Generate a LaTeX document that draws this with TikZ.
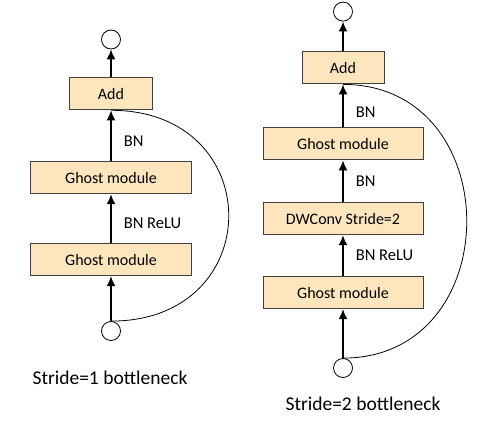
\documentclass[tikz,border=0pt]{standalone}
\usepackage{fontspec}
\setmainfont{Carlito}
\usepackage{tikz}
\usetikzlibrary{arrows.meta,positioning}
\usepackage{xcolor}
\definecolor{GhostFill}{RGB}{253,230,189}
\definecolor{GhostLine}{RGB}{64,64,64}

\begin{document}
\begin{tikzpicture}[
  x=1pt,y=-1pt,
  layer/.style={draw=GhostLine,fill=GhostFill,line width=0.9pt,minimum height=32pt,inner sep=0pt,font=\fontsize{16}{19}\selectfont},
  port/.style={draw=black,circle,line width=0.8pt,minimum size=19pt,inner sep=0pt},
  flow/.style={-{Latex[length=10pt,width=9pt]},line width=1.6pt},
  skip/.style={line width=0.8pt},
  lbl/.style={anchor=west,inner sep=0pt,xshift=12pt,font=\fontsize{16.5}{19}\selectfont},
  caption/.style={font=\fontsize{19.5}{22}\selectfont}
]
  \useasboundingbox (0,0) rectangle (493,428);

  % stride = 1
  \node[port] (in1) at (111,331) {};
  \node[layer,minimum width=161pt,above=45pt of in1] (gm1) {Ghost module};
  \node[layer,minimum width=161pt,above=49pt of gm1] (gm2) {Ghost module};
  \node[layer,minimum width=83pt,above=51pt of gm2] (add1) {Add};
  \node[port,above=28pt of add1] (out1) {};
  \draw[flow] (in1) -- (gm1);
  \draw[flow] (gm1) -- node[lbl,pos=0.4] {BN ReLU} (gm2);
  \draw[flow] (gm2) -- node[lbl,pos=0.4] {BN} (add1);
  \draw[flow] (add1) -- (out1);
  \draw[skip] (in1.north) .. controls +(157,0) and +(157,0) .. (add1.south);
  \node[caption] (cap1) at (110,378) {Stride=1 bottleneck};

  % stride = 2
  \node[port] (in2) at (343,368) {};
  \node[layer,minimum width=160pt,above=49pt of in2] (gm3) {Ghost module};
  \node[layer,minimum width=160pt,above=41pt of gm3] (dw) {DWConv Stride=2};
  \node[layer,minimum width=160pt,above=42pt of dw] (gm4) {Ghost module};
  \node[layer,minimum width=82pt,above=43pt of gm4] (add2) {Add};
  \node[port,above=30pt of add2] (out2) {};
  \draw[flow] (in2) -- (gm3);
  \draw[flow] (gm3) -- node[lbl,pos=0.5] {BN ReLU} (dw);
  \draw[flow] (dw) -- node[lbl,pos=0.5] {BN} (gm4);
  \draw[flow] (gm4) -- node[lbl,pos=0.36] {BN} (add2);
  \draw[flow] (add2) -- (out2);
  \draw[skip] (in2.north) .. controls +(165,0) and +(165,0) .. (add2.south);
  \node[caption] (cap2) at (363,404) {Stride=2 bottleneck};
\end{tikzpicture}
\end{document}
